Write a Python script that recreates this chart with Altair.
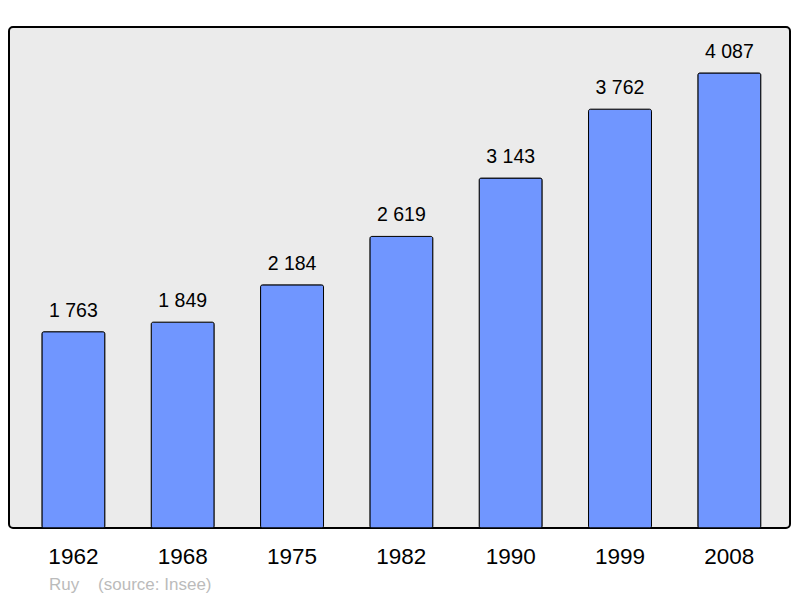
import altair as alt
import pandas as pd

years = ["1962", "1968", "1975", "1982", "1990", "1999", "2008"]
population = [1763, 1849, 2184, 2619, 3143, 3762, 4087]
labels = ["1 763", "1 849", "2 184", "2 619", "3 143", "3 762", "4 087"]

df = pd.DataFrame({"year": years, "pop": population, "label": labels})

FONT = "Liberation Sans"

x = alt.X("year:N", sort=years,
          scale=alt.Scale(paddingInner=0.424, paddingOuter=0.284, align=0.53),
          axis=alt.Axis(title=None, labelAngle=0, labelFontSize=22.5, labelFont=FONT,
                        labelColor="black", domain=False, ticks=False, labelPadding=17))
y = alt.Y("pop:Q", scale=alt.Scale(domain=[0, 4500], nice=False), axis=None)

bars = alt.Chart(df).mark_bar(color="#7096ff", stroke="black", strokeWidth=1,
                              cornerRadius=2).encode(x=x, y=y)
text = alt.Chart(df).mark_text(fontSize=19.5, font=FONT, color="black", dy=-15,
                               baseline="alphabetic").encode(x=x, y=y, text="label:N")

chart = (bars + text).properties(
    width=781, height=501,
    padding={"left": 1, "top": 19, "right": 2, "bottom": 68},
    autosize=alt.AutoSizeParams(type="none"),
    title=alt.TitleParams("Ruy\u00a0\u00a0\u00a0\u00a0(source: Insee)", orient="bottom",
                          anchor="start", dx=40, offset=9, fontSize=17, font=FONT,
                          fontWeight="normal", color="#bbbbbb"),
).configure_view(fill="#ebebeb", stroke="black", strokeWidth=2, cornerRadius=4)

chart.save("out.html", embed_options={"renderer": "svg", "actions": False})
